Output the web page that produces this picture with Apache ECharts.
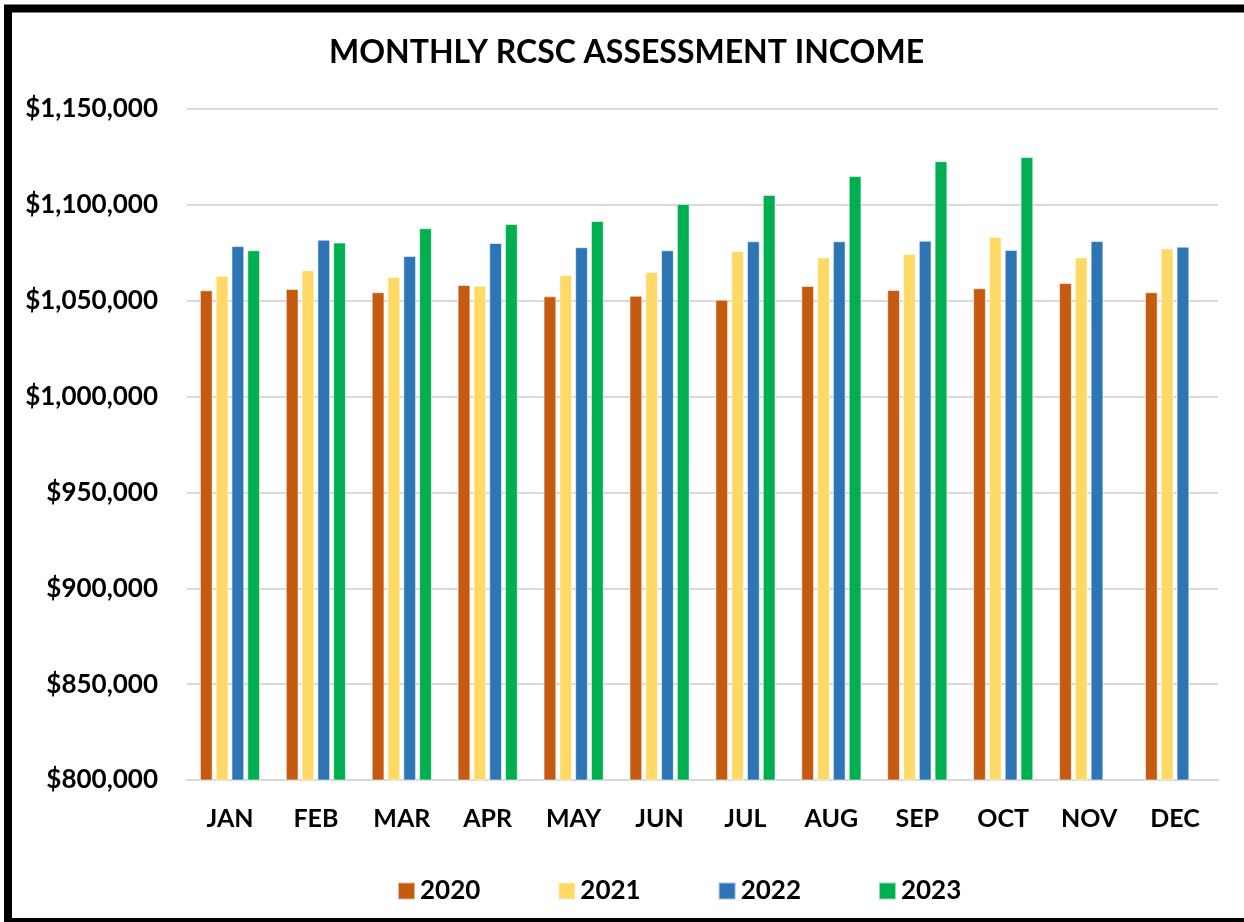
<!DOCTYPE html>
<html>
<head>
<meta charset="utf-8">
<title>Monthly RCSC Assessment Income</title>
<script src="https://cdn.jsdelivr.net/npm/echarts@6/dist/echarts.min.js"></script>
<style>
  html, body { margin: 0; padding: 0; background: #fff; }
  #chart { width: 1244px; height: 922px; }
</style>
</head>
<body>
<div id="chart"></div>
<script>
// months on the x axis
const months = ['JAN', 'FEB', 'MAR', 'APR', 'MAY', 'JUN', 'JUL', 'AUG', 'SEP', 'OCT', 'NOV', 'DEC']
// yearly income
const income2020 = [1055400, 1056100, 1054400, 1058200, 1052300, 1052600, 1050500, 1057700, 1055600, 1056500, 1059200, 1054400]
const income2021 = [1063000, 1065900, 1062400, 1057800, 1063400, 1065000, 1075900, 1072600, 1074400, 1083200, 1072600, 1077300]
const income2022 = [1078500, 1081800, 1073300, 1080100, 1077900, 1076300, 1081000, 1081000, 1081300, 1076500, 1081100, 1078200]
const income2023 = [1076300, 1080300, 1087800, 1090000, 1091600, 1100500, 1105200, 1115000, 1122800, 1124900, 0, 0]
const years = ['2020', '2021', '2022', '2023']
const colors = ['#C55A11', '#FFD966', '#2E75B6', '#00B050']

const font = 'Lato, "Open Sans", sans-serif'
const chart = echarts.init(document.getElementById('chart'))

// $1,150,000 style
const money = v => '$' + v.toLocaleString('en-US')

const series = [income2020, income2021, income2022, income2023].map((d, i) => ({
  name: years[i],
  type: 'bar',
  data: d,
  barGap: '24%',
  barCategoryGap: '30%',
  itemStyle: {
    color: colors[i],
    borderColor: 'rgba(255,255,255,0.55)',
    borderWidth: 1
  }
}))

chart.setOption({
  animation: false,
  color: colors,
  title: {
    text: 'MONTHLY RCSC ASSESSMENT INCOME',
    left: 324,
    top: 32,
    textStyle: { fontFamily: font, fontWeight: 'bold', fontSize: 32, color: '#000' }
  },
  legend: {
    data: years,
    left: 392,
    top: 873,
    itemWidth: 17,
    itemHeight: 17,
    itemGap: 77,
    icon: 'rect',
    textStyle: { fontFamily: font, fontWeight: 'bold', fontSize: 26, color: '#000' }
  },
  grid: { left: 187, right: 26, top: 109, bottom: 142 },
  xAxis: {
    type: 'category',
    data: months,
    axisTick: { show: false },
    axisLine: { lineStyle: { color: '#D9D9D9', width: 2 } },
    axisLabel: { margin: 26, fontFamily: font, fontWeight: 'bold', fontSize: 25, color: '#000' }
  },
  yAxis: {
    type: 'value',
    min: 800000,
    max: 1150000,
    interval: 50000,
    axisLine: { show: false },
    axisTick: { show: false },
    splitLine: { lineStyle: { color: '#D9D9D9', width: 2 } },
    axisLabel: { margin: 29, formatter: money, fontFamily: font, fontWeight: 'bold', fontSize: 26, color: '#000' }
  },
  graphic: [
    {
      type: 'rect',
      silent: true,
      shape: { x: 8, y: 8.5, width: 1300, height: 913.5 },
      style: { fill: 'none', stroke: '#000', lineWidth: 8 }
    }
  ],
  series: series
})
</script>
</body>
</html>
